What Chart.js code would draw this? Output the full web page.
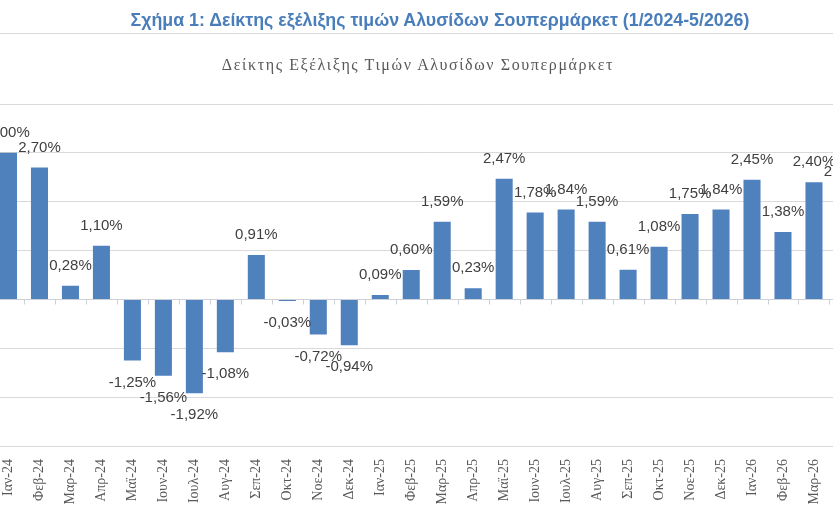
<!DOCTYPE html>
<html>
<head>
<meta charset="utf-8">
<script src="https://cdn.jsdelivr.net/npm/chart.js@4"></script>
<style>
  body { margin: 0; background: #fff; }
  #wrap { position: relative; width: 833px; height: 520px; overflow: hidden; background: #fff; }
  #chart { position: absolute; left: -40px; top: 0; }
  #head { position: absolute; left: 0; top: 10px; width: 880px; text-align: center;
          font: bold 17.8px "Liberation Sans", Arial, sans-serif; color: #4a7ebb; white-space: nowrap; }
  #rule { position: absolute; left: 0; top: 33px; width: 833px; height: 1px; background: #d9d9d9; }
  #sub { position: absolute; left: 0; top: 56px; width: 836px; text-align: center; letter-spacing: 1.6px;
         font: 16px "Liberation Serif", serif; color: #595959; white-space: nowrap; }
</style>
</head>
<body>
<div id="wrap">
  <canvas id="chart" width="915" height="520"></canvas>
  <div id="head">Σχήμα 1: Δείκτης εξέλιξης τιμών Αλυσίδων Σουπερμάρκετ (1/2024-5/2026)</div>
  <div id="rule"></div>
  <div id="sub">Δείκτης Εξέλιξης Τιμών Αλυσίδων Σουπερμάρκετ</div>
</div>
<script>
const months = ['Ιαν-24', 'Φεβ-24', 'Μαρ-24', 'Απρ-24', 'Μαϊ-24', 'Ιουν-24', 'Ιουλ-24', 'Αυγ-24',
  'Σεπ-24', 'Οκτ-24', 'Νοε-24', 'Δεκ-24', 'Ιαν-25', 'Φεβ-25', 'Μαρ-25', 'Απρ-25', 'Μαϊ-25',
  'Ιουν-25', 'Ιουλ-25', 'Αυγ-25', 'Σεπ-25', 'Οκτ-25', 'Νοε-25', 'Δεκ-25', 'Ιαν-26', 'Φεβ-26',
  'Μαρ-26', 'Απρ-26'];
const change = [3.00, 2.70, 0.28, 1.10, -1.25, -1.56, -1.92, -1.08, 0.91, -0.03, -0.72, -0.94,
  0.09, 0.60, 1.59, 0.23, 2.47, 1.78, 1.84, 1.59, 0.61, 1.08, 1.75, 1.84, 2.45, 1.38, 2.40, 2.21];
const yMin = -3, yMax = 4;

const fmt = v => v.toFixed(2).replace('.', ',') + '%';

// zero line with small tick marks between the categories
const zeroAxis = {
  id: 'zeroAxis',
  beforeDatasetsDraw(chart) {
    const { ctx, chartArea, scales: { x, y } } = chart;
    const y0 = Math.round(y.getPixelForValue(0)) + 0.5;
    ctx.save();
    ctx.strokeStyle = '#cdd0d6';
    ctx.lineWidth = 1;
    ctx.beginPath();
    ctx.moveTo(chartArea.left, y0);
    ctx.lineTo(chartArea.right, y0);
    for (let i = 0; i <= months.length; i++) {
      const bx = Math.round(x.getPixelForValue(i - 0.5)) + 0.5;
      ctx.moveTo(bx, y0);
      ctx.lineTo(bx, y0 + 5);
    }
    ctx.stroke();
    ctx.restore();
  }
};

const valueLabels = {
  id: 'valueLabels',
  afterDatasetsDraw(chart) {
    const ctx = chart.ctx;
    const meta = chart.getDatasetMeta(0);
    ctx.save();
    ctx.font = '15px "Liberation Sans", Arial, sans-serif';
    ctx.fillStyle = '#404040';
    ctx.textAlign = 'center';
    ctx.textBaseline = 'middle';
    meta.data.forEach((bar, i) => {
      const v = change[i];
      const ty = v >= 0 ? bar.y - 20 : bar.y + 22;
      ctx.fillText(fmt(v), bar.x, ty);
    });
    ctx.restore();
  }
};

new Chart(document.getElementById('chart'), {
  type: 'bar',
  data: {
    labels: months,
    datasets: [{
      data: change,
      backgroundColor: '#4f81bd',
      barPercentage: 0.55,
      categoryPercentage: 1.0
    }]
  },
  options: {
    responsive: false,
    animation: false,
    devicePixelRatio: 1,
    layout: { padding: { left: 33, right: 14, top: 104, bottom: 0 } },
    plugins: { legend: { display: false }, title: { display: false }, tooltip: { enabled: false } },
    scales: {
      x: {
        grid: { display: false, drawTicks: false },
        border: { display: false },
        ticks: {
          minRotation: 90, maxRotation: 90, autoSkip: false, padding: 13,
          color: '#595959', font: { family: '"Liberation Serif", serif', size: 14 }
        },
        afterFit(scale) { scale.height = 74; }
      },
      y: {
        min: yMin, max: yMax,
        ticks: { display: false, stepSize: 1 },
        grid: { color: '#d9d9d9', lineWidth: 1, drawTicks: false },
        border: { display: false }
      }
    }
  },
  plugins: [zeroAxis, valueLabels]
});
</script>
</body>
</html>
